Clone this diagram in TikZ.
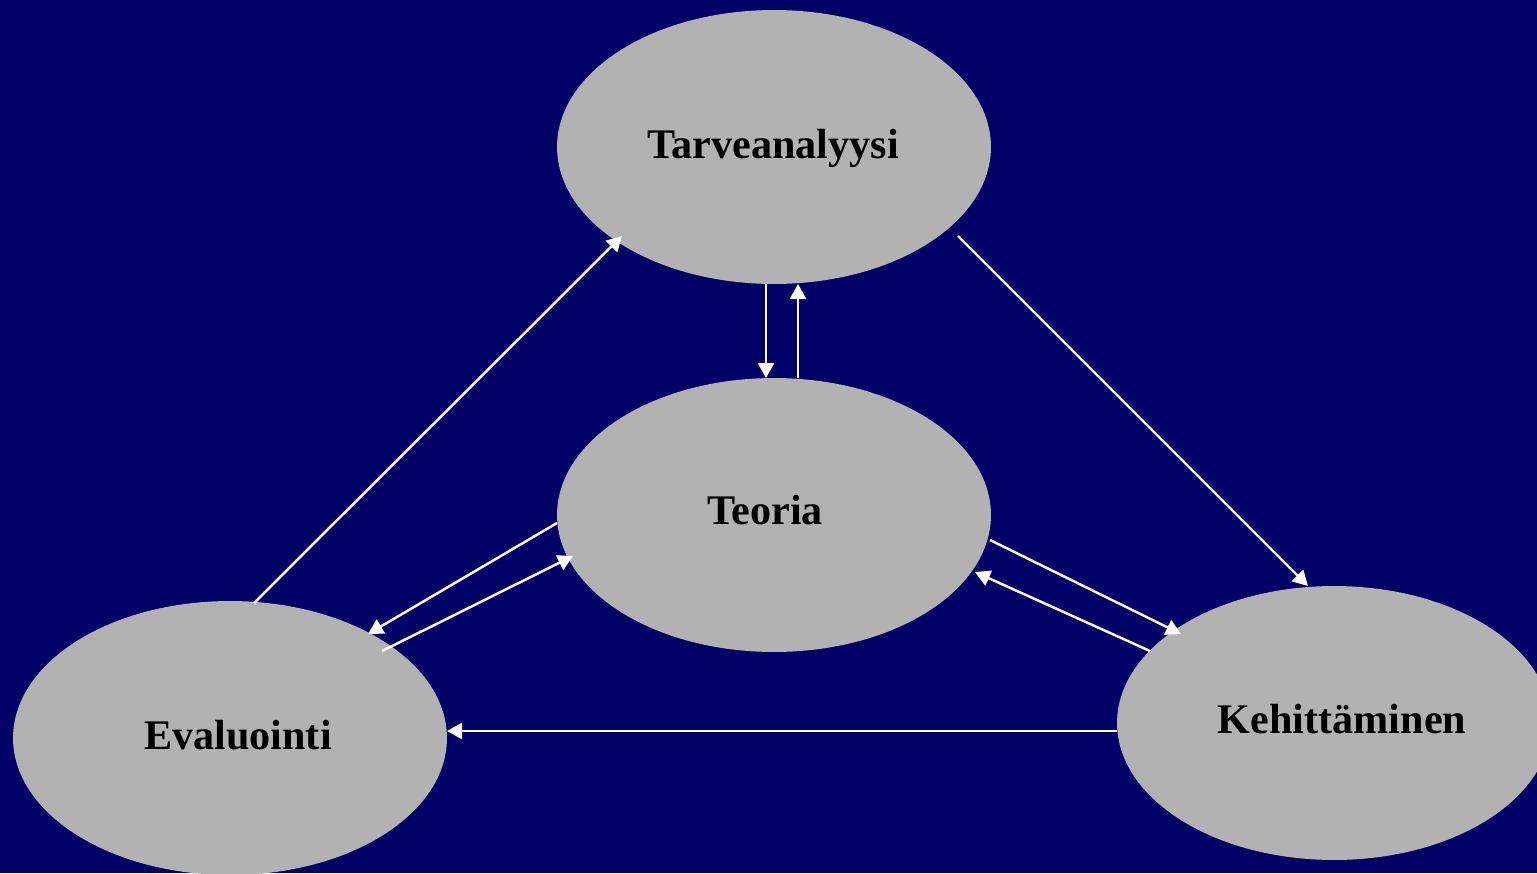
\documentclass[tikz,border=0pt]{standalone}
\usepackage{fontspec}
\setmainfont{Liberation Serif}
\usetikzlibrary{shapes.geometric,arrows.meta,calc}
\definecolor{bgnavy}{RGB}{0,0,102}
\definecolor{ellgray}{RGB}{178,178,178}
\tikzset{
  blob/.style={ellipse, fill=ellgray, draw=none, inner sep=0pt, outer sep=0pt,
    minimum width=8.68cm, minimum height=5.48cm},
  caption/.style={anchor=base, inner sep=0pt,
    font=\fontsize{24}{28}\selectfont\bfseries, text=black},
  link/.style={draw=white, line width=1.4pt,
    -{Triangle[length=0.3cm,width=0.32cm]}}
}
\begin{document}
\begin{tikzpicture}[x=0.02cm,y=-0.02cm]
\useasboundingbox (0,0) rectangle (1537,873);
\clip (0,0) rectangle (1537,873);
\fill[bgnavy] (0,0) rectangle (1537,873);
\node[blob] (T) at (774,147) {};
\node[blob] (Te) at (774,515) {};
\node[blob] (E) at (230,738) {};
\node[blob] (K) at (1334,723) {};
\node[caption] (Tl) at (773,158) {Tarveanalyysi};
\node[caption] (Tel) at (765,524) {Teoria};
\node[caption] (El) at (238,749) {Evaluointi};
\node[caption] (Kl) at (1342,733) {Kehittäminen};
% vertical pair
\draw[link] ($(T)+(-8,137)$) -- ($(Te)+(-8,-137)$);
\draw[link] ($(Te)+(24,-137)$) -- ($(T)+(24,137)$);
% outer triangle
\draw[link] ($(E)+(24,-135)$) -- ($(T)+(-152,89)$);
\draw[link] ($(T)+(184,89)$) -- ($(K)+(-26,-137)$);
\draw[link] ($(K)+(-217,8)$) -- ($(E)+(217,-7)$);
% inner pairs
\draw[link] ($(Te)+(-217,8)$) -- ($(E)+(138,-104)$);
\draw[link] ($(E)+(152,-87)$) -- ($(Te)+(-201,41)$);
\draw[link] ($(Te)+(216,25)$) -- ($(K)+(-153,-89)$);
\draw[link] ($(K)+(-184,-72)$) -- ($(Te)+(201,57)$);
\end{tikzpicture}
\end{document}
